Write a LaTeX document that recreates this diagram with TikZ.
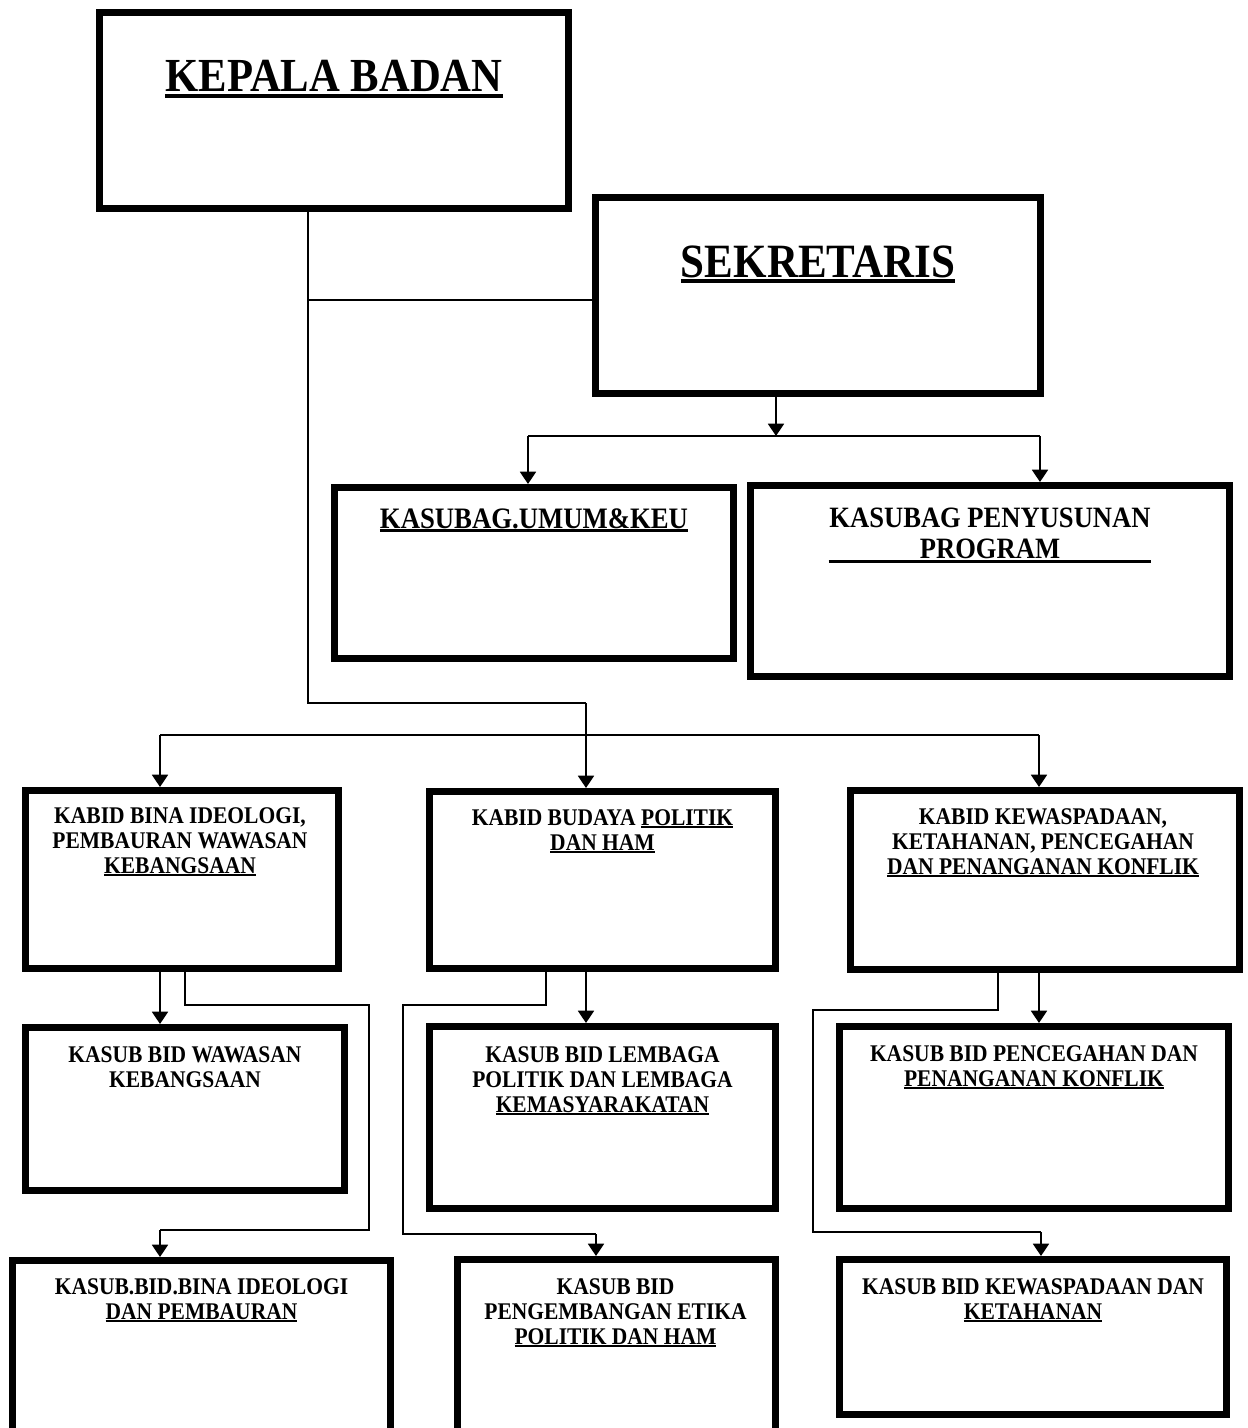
\documentclass[tikz,border=0pt]{standalone}
\usepackage{fontspec}
\setmainfont{Liberation Serif}[FakeStretch=0.9]
\usetikzlibrary{calc,arrows.meta}
\newcommand{\undl}[1]{\setbox0=\hbox{#1}\rlap{\rule[-0.13em]{\wd0}{0.09em}}\box0}

\begin{document}
\begin{tikzpicture}[x=0.02cm, y=-0.02cm,
  box/.style={draw, line width=0.14cm, inner sep=0pt},
  lbl/.style={anchor=north, inner sep=0pt, align=center,
    font=\bfseries\fontsize{13.6}{14.2}\selectfont},
  link/.style={line width=0.9pt},
  arr/.style={line width=1.4pt, -{Triangle[length=7pt,width=9pt]}}]
  \useasboundingbox (0,0) rectangle (1248,1428);
  \clip (0,0) rectangle (1248,1428);

  % Boxes
  \node[box, minimum width=9.38cm, minimum height=3.92cm] (kepala) at (334,110.5) {};
  \node[box, minimum width=8.9cm, minimum height=3.92cm] (sek) at (818,295.5) {};
  \node[box, minimum width=7.98cm, minimum height=3.42cm] (umum) at (534,573) {};
  \node[box, minimum width=9.58cm, minimum height=3.82cm] (program) at (990,581) {};
  \node[box, minimum width=6.26cm, minimum height=3.56cm] (kabid1) at (182,879.5) {};
  \node[box, minimum width=6.92cm, minimum height=3.54cm] (kabid2) at (602.5,880) {};
  \node[box, minimum width=7.78cm, minimum height=3.58cm] (kabid3) at (1045,880) {};
  \node[box, minimum width=6.38cm, minimum height=3.26cm] (kasub1) at (185,1109) {};
  \node[box, minimum width=6.92cm, minimum height=3.64cm] (kasub2) at (602.5,1117.5) {};
  \node[box, minimum width=7.78cm, minimum height=3.64cm] (kasub3) at (1034,1117.5) {};
  \node[box, minimum width=7.56cm, minimum height=3.52cm] (kasub4) at (201.5,1348.5) {};
  \node[box, minimum width=6.36cm, minimum height=3.54cm] (kasub5) at (616.5,1348) {};
  \node[box, minimum width=7.74cm, minimum height=3.1cm] (kasub6) at (1033,1337) {};

  % Titles
  \node[lbl, font=\bfseries\fontsize{27}{29}\selectfont] (tkepala) at ($(kepala.north)+(0,51)$) {\undl{KEPALA BADAN}};
  \node[lbl, font=\bfseries\fontsize{27.2}{29}\selectfont] (tsek) at ($(sek.north)+(0,51)$) {\undl{SEKRETARIS}};
  \node[lbl, font=\bfseries\fontsize{16.9}{18}\selectfont] (tumum) at ($(umum.north)+(0,24)$) {\undl{KASUBAG.UMUM\&KEU}};
  \node[lbl, font=\bfseries\fontsize{16.8}{17.5}\selectfont] (tprogram) at ($(program.north)+(0,26)$)
    {KASUBAG PENYUSUNAN\\ \undl{\makebox[6.46cm]{PROGRAM}}};
  \node[lbl] (tkabid1) at ($(kabid1.north)+(-2,20)$) {KABID BINA IDEOLOGI,\\ PEMBAURAN WAWASAN\\ \undl{KEBANGSAAN}};
  \node[lbl] (tkabid2) at ($(kabid2.north)+(0,21)$) {KABID BUDAYA \undl{POLITIK}\\ \undl{DAN HAM}};
  \node[lbl] (tkabid3) at ($(kabid3.north)+(-2,21)$) {KABID KEWASPADAAN,\\ KETAHANAN, PENCEGAHAN\\ \undl{DAN PENANGANAN KONFLIK}};
  \node[lbl] (tkasub1) at ($(kasub1.north)+(0,22)$) {KASUB BID WAWASAN\\ KEBANGSAAN};
  \node[lbl] (tkasub2) at ($(kasub2.north)+(0,23)$) {KASUB BID LEMBAGA\\ POLITIK DAN LEMBAGA\\ \undl{KEMASYARAKATAN}};
  \node[lbl] (tkasub3) at ($(kasub3.north)+(0,22)$) {KASUB BID PENCEGAHAN DAN\\ \undl{PENANGANAN KONFLIK}};
  \node[lbl] (tkasub4) at ($(kasub4.north)+(0,21)$) {KASUB.BID.BINA IDEOLOGI\\ \undl{DAN PEMBAURAN}};
  \node[lbl] (tkasub5) at ($(kasub5.north)+(-1,22)$) {KASUB BID\\ PENGEMBANGAN ETIKA\\ \undl{POLITIK DAN HAM}};
  \node[lbl] (tkasub6) at ($(kasub6.north)+(0,22)$) {KASUB BID KEWASPADAAN DAN\\ \undl{KETAHANAN}};

  % Kepala Badan to Sekretaris and the Kabid row
  \draw[link] (kepala.south -| 308,0) |- (586,703);
  \draw[link] (308,300) -- (308,300 -| sek.west);
  \draw[arr] (586,703) -- (kabid2.north -| 586,0);
  \draw[link] (160,735) -- (1039,735);
  \draw[arr] (160,735) -- (kabid1.north -| 160,0);
  \draw[arr] (1039,735) -- (kabid3.north -| 1039,0);

  % Sekretaris to the Kasubag boxes
  \draw[arr] (sek.south -| 776,0) -- (776,436);
  \draw[link] (528,436) -- (1040,436);
  \draw[arr] (528,436) -- (umum.north -| 528,0);
  \draw[arr] (1040,436) -- (program.north -| 1040,0);

  % Kabid to Kasub
  \draw[arr] (kabid1.south -| 160,0) -- (kasub1.north -| 160,0);
  \draw[link] (kabid1.south -| 185,0) |- (369,1005) |- (160,1230);
  \draw[arr] (160,1230) -- (kasub4.north -| 160,0);

  \draw[arr] (kabid2.south -| 586,0) -- (kasub2.north -| 586,0);
  \draw[link] (kabid2.south -| 546,0) |- (403,1005) |- (596,1234);
  \draw[arr] (596,1234) -- (kasub5.north -| 596,0);

  \draw[arr] (kabid3.south -| 1039,0) -- (kasub3.north -| 1039,0);
  \draw[link] (kabid3.south -| 998,0) |- (813,1010) |- (1041,1232);
  \draw[arr] (1041,1232) -- (kasub6.north -| 1041,0);
\end{tikzpicture}
\end{document}
